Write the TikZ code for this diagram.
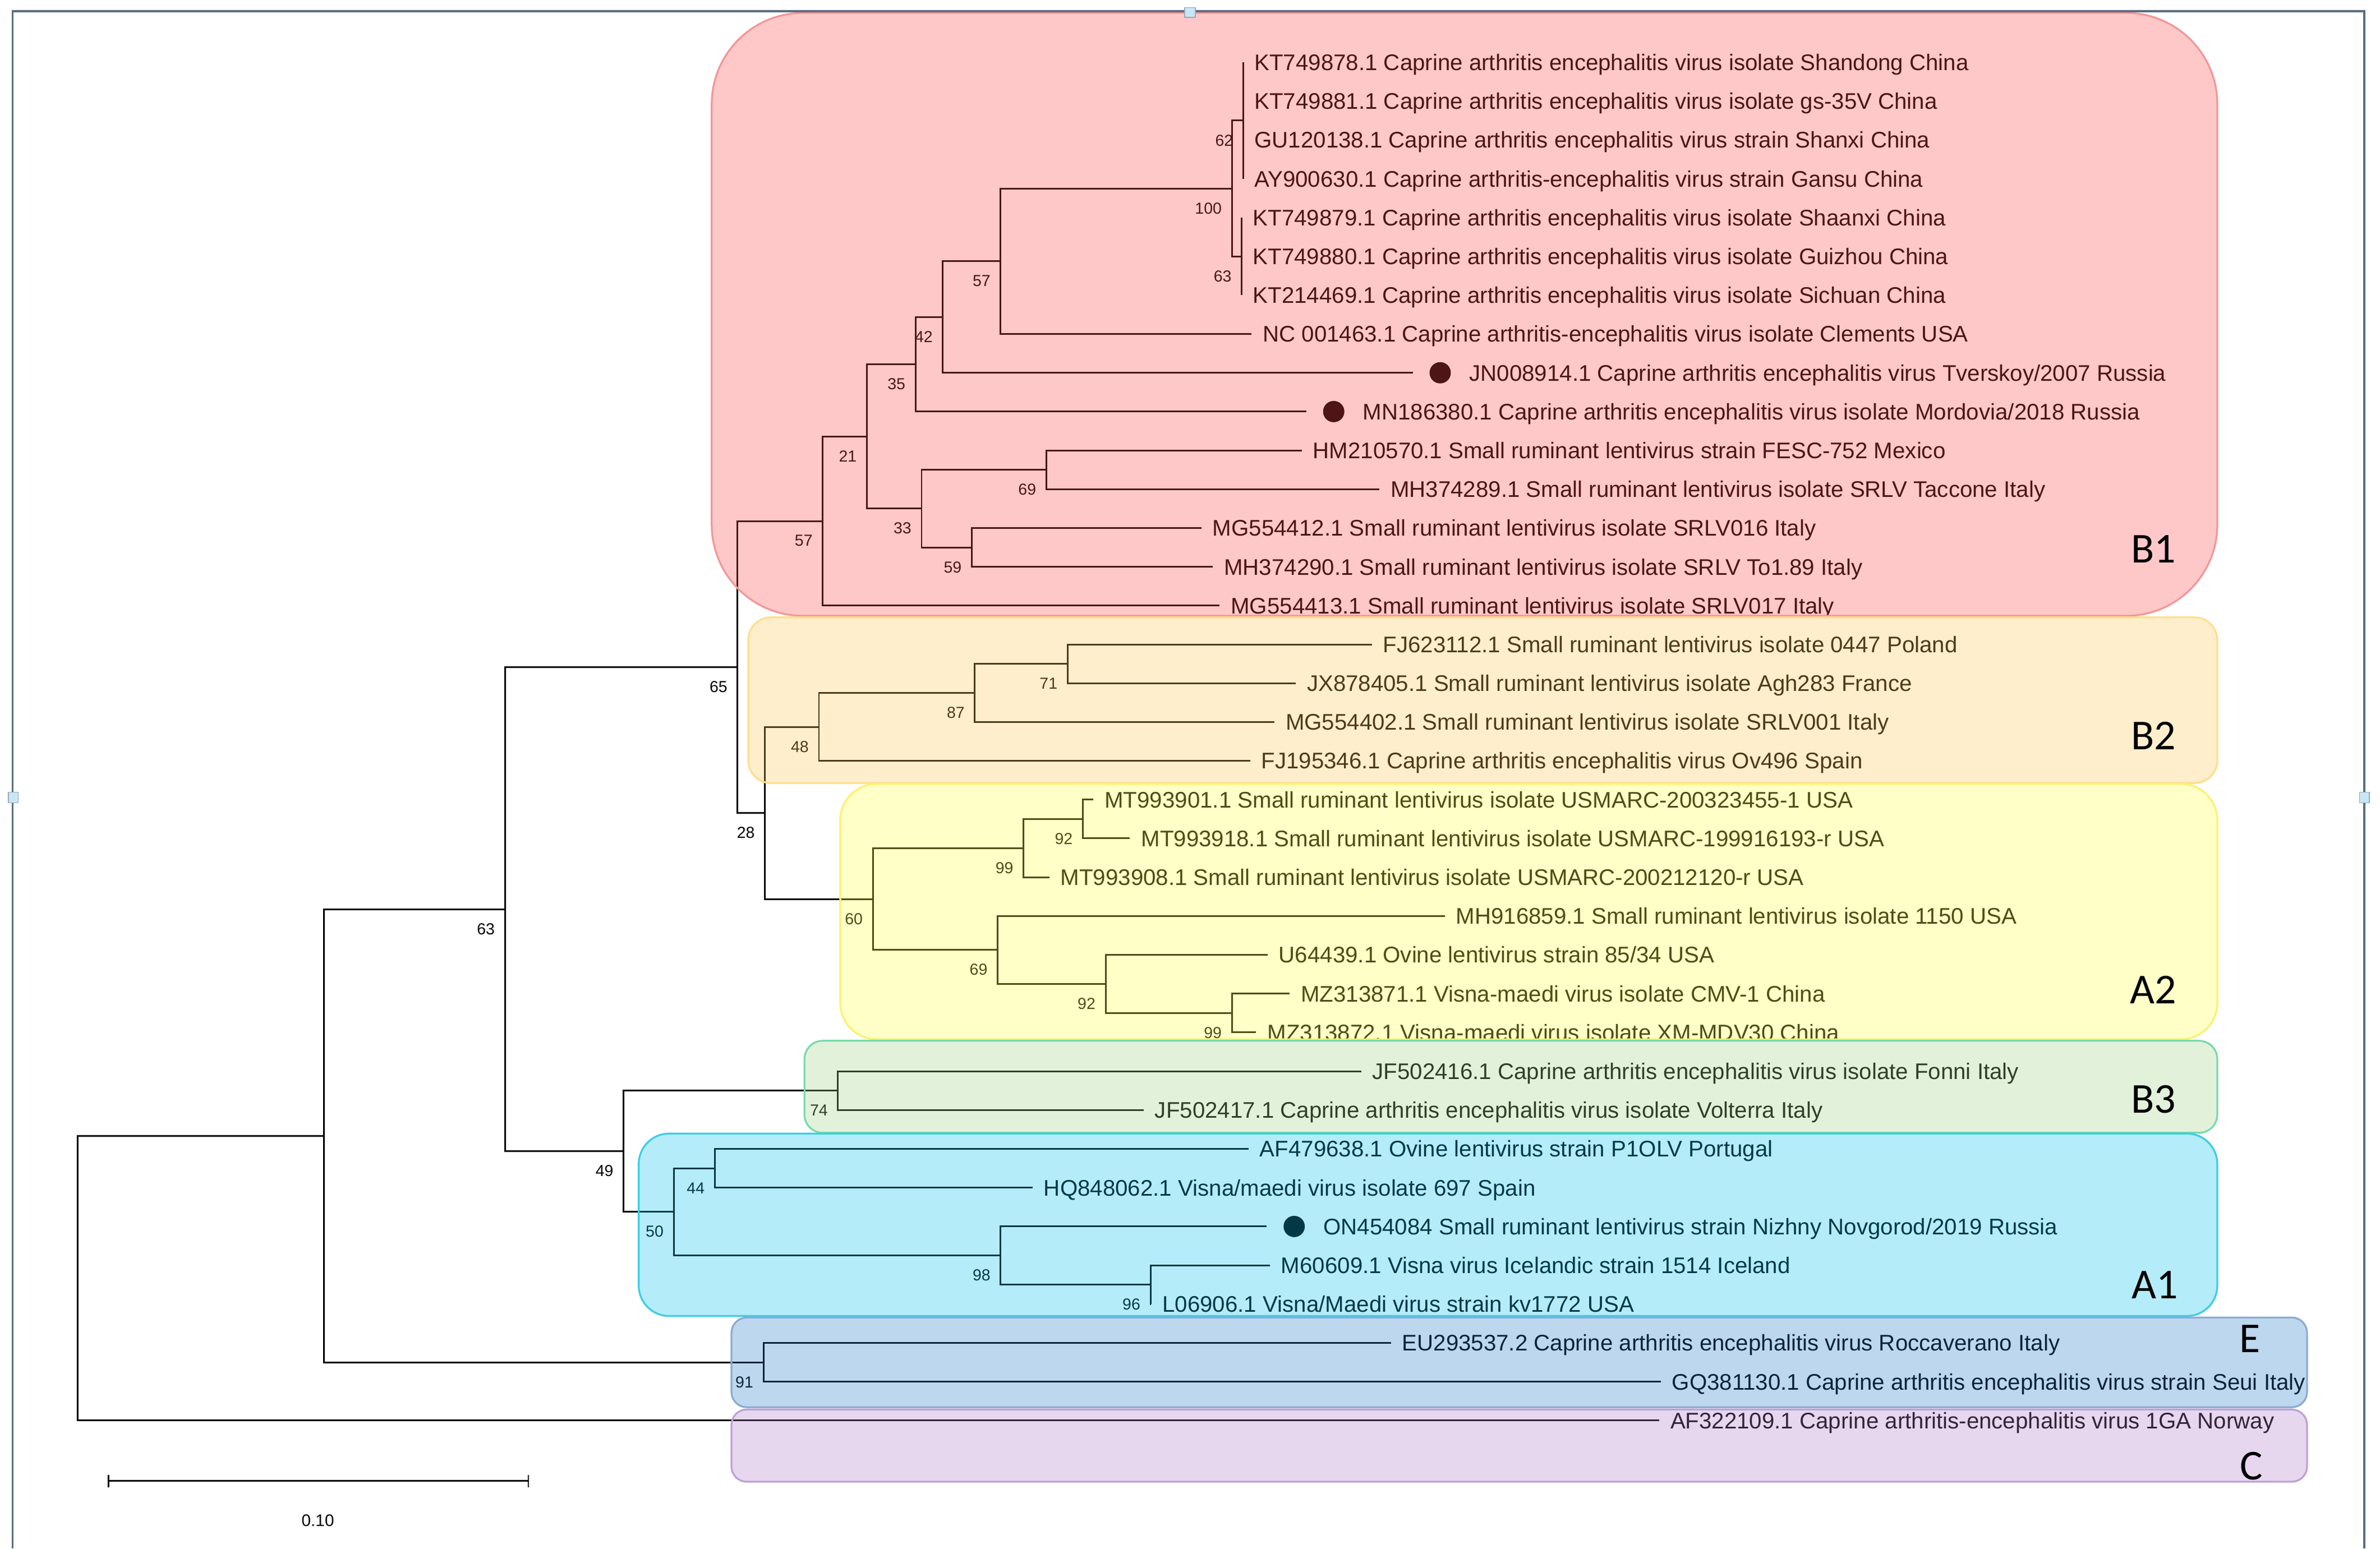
\documentclass[tikz,border=0pt]{standalone}
\usepackage{fontspec}
\setmainfont{Liberation Sans}
\newfontfamily\grpfont{Carlito}
\usetikzlibrary{calc}
\definecolor{cB1}{RGB}{255,72,72}
\definecolor{dB1}{RGB}{244,150,150}
\definecolor{cB2}{RGB}{255,198,85}
\definecolor{dB2}{RGB}{255,222,140}
\definecolor{cA2}{RGB}{255,255,72}
\definecolor{dA2}{RGB}{255,240,110}
\definecolor{cB3}{RGB}{158,212,132}
\definecolor{dB3}{RGB}{120,218,170}
\definecolor{cA1}{RGB}{5,192,238}
\definecolor{dA1}{RGB}{60,205,230}
\definecolor{cE}{RGB}{35,122,198}
\definecolor{dE}{RGB}{140,170,210}
\definecolor{cC}{RGB}{172,122,198}
\definecolor{dC}{RGB}{190,160,215}
\definecolor{framec}{RGB}{90,110,130}
\definecolor{handlec}{RGB}{200,230,245}
\tikzset{
  br/.style={line width=1.1pt, draw=black},
  tiplab/.style={anchor=base west, inner sep=0pt, font=\fontsize{14.85}{16}\selectfont},
  boot/.style={anchor=east, inner sep=0pt, font=\fontsize{10.5}{12}\selectfont},
  grp/.style={inner sep=0pt, font=\grpfont\fontsize{28}{30}\selectfont},
  dotc/.style={circle, fill=black, minimum size=14pt, inner sep=0pt},
  clade/.style={fill=#1, fill opacity=0.3, line width=1.2pt},
  handle/.style={fill=handlec, draw=framec!60, line width=0.6pt}
}
\newcommand\leaf[4]{\coordinate (#1) at (#2,#3); \node[tiplab] (#1t) at (#2+7.2,#3+5.3) {#4};}
\newcommand\dotleaf[4]{\coordinate (#1) at (#2,#3); \node[dotc] (#1d) at (#2+18,#3) {}; \node[tiplab] (#1t) at (#2+37,#3+5.3) {#4};}
\newcommand\edg[2]{\draw[br] (#1) |- (#2);}
\newcommand\bs[2]{\node[boot] (b#1) at ($(#1)+(-6.5,13)$) {#2};}
\begin{document}
\begin{tikzpicture}[x=1pt,y=-1pt]
\useasboundingbox (0,0) rectangle (1565,1018.4);
% ---------- leaves ----------
\leaf{l0}{817.5}{41.00}{KT749878.1 Caprine arthritis encephalitis virus isolate Shandong China}
\leaf{l1}{817.5}{66.52}{KT749881.1 Caprine arthritis encephalitis virus isolate gs-35V China}
\leaf{l2}{817.5}{92.04}{GU120138.1 Caprine arthritis encephalitis virus strain Shanxi China}
\leaf{l3}{817.5}{117.56}{AY900630.1 Caprine arthritis-encephalitis virus strain Gansu China}
\leaf{l4}{816.5}{143.08}{KT749879.1 Caprine arthritis encephalitis virus isolate Shaanxi China}
\leaf{l5}{816.5}{168.60}{KT749880.1 Caprine arthritis encephalitis virus isolate Guizhou China}
\leaf{l6}{816.5}{194.12}{KT214469.1 Caprine arthritis encephalitis virus isolate Sichuan China}
\leaf{l7}{823}{219.64}{NC 001463.1 Caprine arthritis-encephalitis virus isolate Clements USA}
\dotleaf{l8}{929}{245.16}{JN008914.1 Caprine arthritis encephalitis virus Tverskoy/2007 Russia}
\dotleaf{l9}{859}{270.68}{MN186380.1 Caprine arthritis encephalitis virus isolate Mordovia/2018 Russia}
\leaf{l10}{856}{296.20}{HM210570.1 Small ruminant lentivirus strain FESC-752 Mexico}
\leaf{l11}{907}{321.72}{MH374289.1 Small ruminant lentivirus isolate SRLV Taccone Italy}
\leaf{l12}{790}{347.24}{MG554412.1 Small ruminant lentivirus isolate SRLV016 Italy}
\leaf{l13}{797.5}{372.76}{MH374290.1 Small ruminant lentivirus isolate SRLV To1.89 Italy}
\leaf{l14}{802}{398.28}{MG554413.1 Small ruminant lentivirus isolate SRLV017 Italy}
\leaf{l15}{902}{423.80}{FJ623112.1 Small ruminant lentivirus isolate 0447 Poland}
\leaf{l16}{852}{449.32}{JX878405.1 Small ruminant lentivirus isolate Agh283 France}
\leaf{l17}{838}{474.84}{MG554402.1 Small ruminant lentivirus isolate SRLV001 Italy}
\leaf{l18}{822}{500.36}{FJ195346.1 Caprine arthritis encephalitis virus Ov496 Spain}
\leaf{l19}{719}{525.88}{MT993901.1 Small ruminant lentivirus isolate USMARC-200323455-1 USA}
\leaf{l20}{743}{551.40}{MT993918.1 Small ruminant lentivirus isolate USMARC-199916193-r USA}
\leaf{l21}{690}{576.92}{MT993908.1 Small ruminant lentivirus isolate USMARC-200212120-r USA}
\leaf{l22}{950}{602.44}{MH916859.1 Small ruminant lentivirus isolate 1150 USA}
\leaf{l23}{833.5}{627.96}{U64439.1 Ovine lentivirus strain 85/34 USA}
\leaf{l24}{848}{653.48}{MZ313871.1 Visna-maedi virus isolate CMV-1 China}
\leaf{l25}{826}{679.00}{MZ313872.1 Visna-maedi virus isolate XM-MDV30 China}
\leaf{l26}{895}{704.52}{JF502416.1 Caprine arthritis encephalitis virus isolate Fonni Italy}
\leaf{l27}{752}{730.04}{JF502417.1 Caprine arthritis encephalitis virus isolate Volterra Italy}
\leaf{l28}{821}{755.56}{AF479638.1 Ovine lentivirus strain P1OLV Portugal}
\leaf{l29}{679}{781.08}{HQ848062.1 Visna/maedi virus isolate 697 Spain}
\dotleaf{l30}{833}{806.60}{ON454084 Small ruminant lentivirus strain Nizhny Novgorod/2019 Russia}
\leaf{l31}{835}{832.12}{M60609.1 Visna virus Icelandic strain 1514 Iceland}
\leaf{l32}{757}{857.64}{L06906.1 Visna/Maedi virus strain kv1772 USA}
\leaf{l33}{914.6}{883.16}{EU293537.2 Caprine arthritis encephalitis virus Roccaverano Italy}
\leaf{l34}{1092}{908.68}{GQ381130.1 Caprine arthritis encephalitis virus strain Seui Italy}
\leaf{l35}{1091}{934.20}{AF322109.1 Caprine arthritis-encephalitis virus 1GA Norway}
% ---------- internal nodes ----------
\coordinate (n62) at (817.5,79.28);
\coordinate (n63) at (816.5,168.6);
\coordinate (n100) at (810,123.94);
\coordinate (n57u) at (658,171.79);
\coordinate (n42) at (620,208.48);
\coordinate (n35) at (602,239.58);
\coordinate (n69a) at (688,308.96);
\coordinate (n59) at (639,360.0);
\coordinate (n33) at (606,334.48);
\coordinate (n21) at (570,287.03);
\coordinate (n57l) at (541,342.66);
\coordinate (n71) at (702,436.56);
\coordinate (n87) at (641,455.7);
\coordinate (n48) at (538.5,478.03);
\coordinate (n92a) at (712,538.64);
\coordinate (n99a) at (673,557.78);
\coordinate (n99b) at (810,666.24);
\coordinate (n92b) at (727,647.1);
\coordinate (n69b) at (656,624.77);
\coordinate (n60) at (574,591.28);
\coordinate (n28) at (503,534.65);
\coordinate (n65) at (485,438.66);
\coordinate (n74) at (551,717.28);
\coordinate (n44) at (470,768.32);
\coordinate (n96) at (756.5,844.88);
\coordinate (n98) at (658,825.74);
\coordinate (n50) at (443,797.03);
\coordinate (n49) at (410,757.16);
\coordinate (n63r) at (332,597.91);
\coordinate (n91) at (502,895.92);
\coordinate (n213) at (213,746.92);
\coordinate (root) at (51,840.56);
% ---------- branches ----------
\edg{n62}{l0}\edg{n62}{l1}\edg{n62}{l2}\edg{n62}{l3}
\edg{n63}{l4}\edg{n63}{l5}\edg{n63}{l6}
\edg{n100}{n62}\edg{n100}{n63}
\edg{n57u}{n100}\edg{n57u}{l7}
\edg{n42}{n57u}\edg{n42}{l8}
\edg{n35}{n42}\edg{n35}{l9}
\edg{n69a}{l10}\edg{n69a}{l11}
\edg{n59}{l12}\edg{n59}{l13}
\edg{n33}{n69a}\edg{n33}{n59}
\edg{n21}{n35}\edg{n21}{n33}
\edg{n57l}{n21}\edg{n57l}{l14}
\edg{n71}{l15}\edg{n71}{l16}
\edg{n87}{n71}\edg{n87}{l17}
\edg{n48}{n87}\edg{n48}{l18}
\edg{n92a}{l19}\edg{n92a}{l20}
\edg{n99a}{n92a}\edg{n99a}{l21}
\edg{n99b}{l24}\edg{n99b}{l25}
\edg{n92b}{l23}\edg{n92b}{n99b}
\edg{n69b}{l22}\edg{n69b}{n92b}
\edg{n60}{n99a}\edg{n60}{n69b}
\edg{n28}{n48}\edg{n28}{n60}
\edg{n65}{n57l}\edg{n65}{n28}
\edg{n74}{l26}\edg{n74}{l27}
\edg{n44}{l28}\edg{n44}{l29}
\edg{n96}{l31}\edg{n96}{l32}
\edg{n98}{l30}\edg{n98}{n96}
\edg{n50}{n44}\edg{n50}{n98}
\edg{n49}{n74}\edg{n49}{n50}
\edg{n63r}{n65}\edg{n63r}{n49}
\edg{n91}{l33}\edg{n91}{l34}
\edg{n213}{n63r}\edg{n213}{n91}
\edg{root}{n213}\edg{root}{l35}
% ---------- bootstrap values ----------
\bs{n62}{62}\bs{n100}{100}\bs{n63}{63}\bs{n57u}{57}\bs{n42}{42}\bs{n35}{35}
\bs{n21}{21}\bs{n57l}{57}\bs{n69a}{69}\bs{n33}{33}\bs{n59}{59}\bs{n65}{65}
\bs{n71}{71}\bs{n87}{87}\bs{n48}{48}\bs{n28}{28}\bs{n92a}{92}\bs{n99a}{99}
\bs{n60}{60}\bs{n69b}{69}\bs{n92b}{92}\bs{n99b}{99}\bs{n63r}{63}\bs{n74}{74}
\bs{n49}{49}\bs{n44}{44}\bs{n50}{50}\bs{n98}{98}\bs{n96}{96}\bs{n91}{91}
% ---------- scale bar ----------
\coordinate (sb1) at (71.5,974);
\coordinate (sb2) at (347.4,974);
\draw[line width=1pt] (sb1) -- (sb2);
\draw[line width=1pt] ($(sb1)+(0,-4)$) -- ($(sb1)+(0,4)$);
\draw[line width=1pt] ($(sb2)+(0,-4)$) -- ($(sb2)+(0,4)$);
\node[inner sep=0pt, font=\fontsize{11}{12}\selectfont] (sblab) at (209,1000) {0.10};
% ---------- clade boxes (translucent overlays) ----------
\path[clade=cB1, draw=dB1, rounded corners=60pt] (468,8.5) rectangle (1458,405);
\path[clade=cB2, draw=dB2, rounded corners=15pt] (492,406) rectangle (1458,515);
\path[clade=cA2, draw=dA2, rounded corners=24pt] (552.5,515.5) rectangle (1458,683.5);
\path[clade=cB3, draw=dB3, rounded corners=12pt] (529,684.5) rectangle (1458,745);
\path[clade=cA1, draw=dA1, rounded corners=20pt] (420,745.5) rectangle (1458,865.5);
\path[clade=cE, draw=dE, rounded corners=10pt] (481,866.5) rectangle (1517,925.5);
\path[clade=cC, draw=dC, rounded corners=10pt] (481,927) rectangle (1517,974.5);
% ---------- clade names ----------
\node[grp] (gB1) at (1416,361) {B1};
\node[grp] (gB2) at (1416,484) {B2};
\node[grp] (gA2) at (1416,651) {A2};
\node[grp] (gB3) at (1416,723) {B3};
\node[grp] (gA1) at (1417,845) {A1};
\node[grp] (gE) at (1479.5,880.5) {E};
\node[grp] (gC) at (1480.5,964) {C};
% ---------- window frame ----------
\draw[framec, line width=1.4pt] (8.3,1018.4) -- (8.3,7.5) -- (1554.6,7.5) -- (1554.6,1018.4);
\path[handle] (779,5) rectangle (786,11.5);
\path[handle] (5.5,521) rectangle (12,528);
\path[handle] (1551.5,521) rectangle (1558,528);
\end{tikzpicture}
\end{document}
